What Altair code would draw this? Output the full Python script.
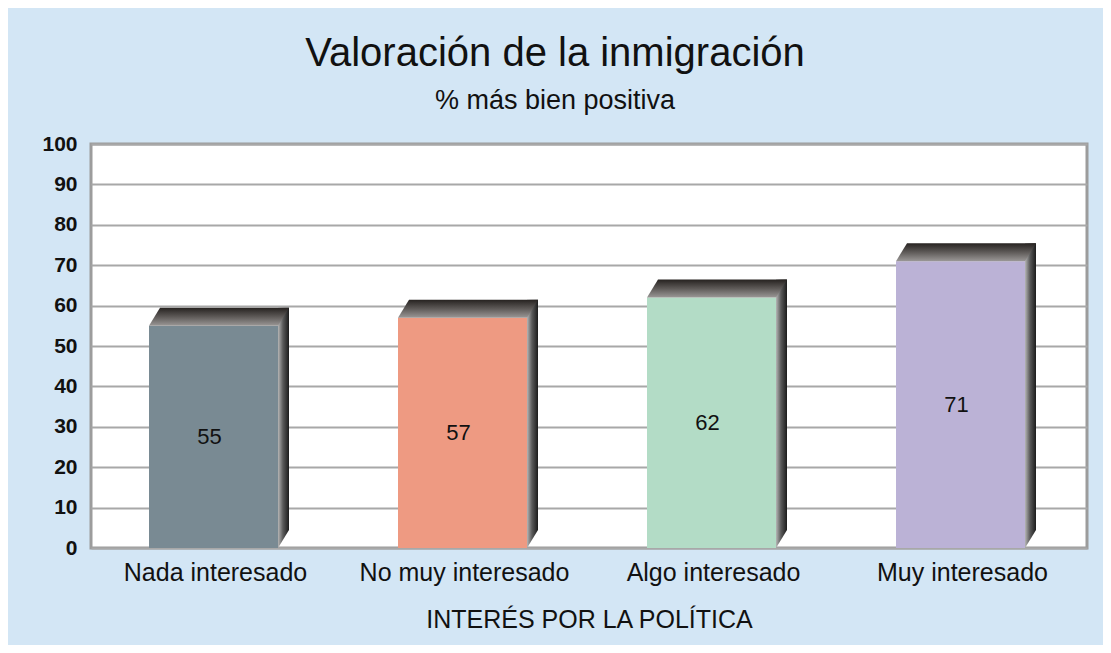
import altair as alt
import pandas as pd

categories = ["Nada interesado", "No muy interesado", "Algo interesado", "Muy interesado"]
values = [55, 57, 62, 71]
colors = ["#798A93", "#EE9A82", "#B3DCC6", "#BBB2D6"]
y_ticks = list(range(0, 101, 10))

df = pd.DataFrame({"cat": categories, "val": values})

FONT = "Liberation Sans"
BG = "#D3E6F5"
W, H = 996, 404
FRONT_W = 129
FRONT_OFF = -2
DX = 11
DY = 18
UNIT = 80.0  # symbol scale: sqrt(size)/2

x_enc = alt.X(
    "cat:N",
    sort=categories,
    scale=alt.Scale(paddingInner=0.4, paddingOuter=0.2),
    axis=alt.Axis(
        labelAngle=0, labelFont=FONT, labelFontSize=25, labelColor="#111111",
        labelPadding=12, labelLimit=0, ticks=False, domain=False, grid=False,
        title="INTERÉS POR LA POLÍTICA", titleFont=FONT, titleFontSize=25,
        titleFontWeight="normal", titleColor="#111111", titlePadding=22,
    ),
)
y_scale = alt.Scale(domain=[0, 100], nice=False)
y_enc = alt.Y(
    "val:Q",
    scale=y_scale,
    axis=alt.Axis(
        values=y_ticks, labelFont=FONT, labelFontSize=21, labelFontWeight="bold",
        labelColor="#111111", labelPadding=14, ticks=False, domain=False,
        gridColor="#A8A8A8", gridWidth=2, title=None,
    ),
)

base = alt.Chart(df)

side_grad = alt.Gradient(
    gradient="linear", x1=0, y1=0, x2=1, y2=0,
    stops=[alt.GradientStop(color="#b5b5b5", offset=0),
           alt.GradientStop(color="#5a5a5a", offset=0.45),
           alt.GradientStop(color="#1c1c1c", offset=1)],
)
top_grad = alt.Gradient(
    gradient="linear", x1=0, y1=0, x2=0, y2=1,
    stops=[alt.GradientStop(color="#262220", offset=0),
           alt.GradientStop(color="#5e5a58", offset=0.5),
           alt.GradientStop(color="#9a9796", offset=1)],
)

side = base.mark_bar(
    width=DX, xOffset=FRONT_OFF + FRONT_W / 2 + DX / 2,
    yOffset=-DY, y2Offset=-DY, fill=side_grad, stroke=None,
).encode(x=x_enc, y=y_enc, y2=alt.datum(0))

tri_path = f"M0,0L0,{-DY/UNIT}L{DX/UNIT},{-DY/UNIT}Z"
side_tri = base.mark_point(
    shape=tri_path, size=(2 * UNIT) ** 2, filled=True, fill=side_grad,
    opacity=1, strokeWidth=0, xOffset=FRONT_OFF + FRONT_W / 2,
).encode(x=x_enc, y=alt.datum(0))

front = base.mark_bar(width=FRONT_W, xOffset=FRONT_OFF).encode(
    x=x_enc, y=y_enc, y2=alt.datum(0),
    color=alt.Color("cat:N", scale=alt.Scale(domain=categories, range=colors), legend=None),
)

hw = FRONT_W / 2
top_path = (
    f"M{-hw/UNIT},0L{hw/UNIT},0L{(hw+DX)/UNIT},{-DY/UNIT}L{(-hw+DX)/UNIT},{-DY/UNIT}Z"
)
top = base.mark_point(
    shape=top_path, size=(2 * UNIT) ** 2, filled=True, fill=top_grad,
    opacity=1, strokeWidth=0, xOffset=FRONT_OFF,
).encode(x=x_enc, y=y_enc)

labels = base.transform_calculate(mid="datum.val / 2").mark_text(
    font=FONT, fontSize=22, color="#111111", dx=FRONT_OFF - 4,
).encode(x=x_enc, y=alt.Y("mid:Q", scale=y_scale), text="val:Q")

chart = alt.layer(side, side_tri, front, top, labels).properties(
    width=W, height=H,
    title=alt.TitleParams(
        text="Valoración de la inmigración", subtitle="% más bien positiva",
        font=FONT, fontSize=40, fontWeight="normal", color="#111111",
        subtitleFont=FONT, subtitleFontSize=27, subtitleColor="#111111",
        subtitlePadding=14, anchor="middle", dx=-34, offset=19,
    ),
    background=BG,
    padding={"left": 83, "top": 136, "right": 16, "bottom": 97},
    autosize=alt.AutoSizeParams(type="none"),
).configure_view(
    fill="white", stroke="#9C9C9C", strokeWidth=3,
)

chart.save("out.html", embed_options={"renderer": "svg", "actions": False})
